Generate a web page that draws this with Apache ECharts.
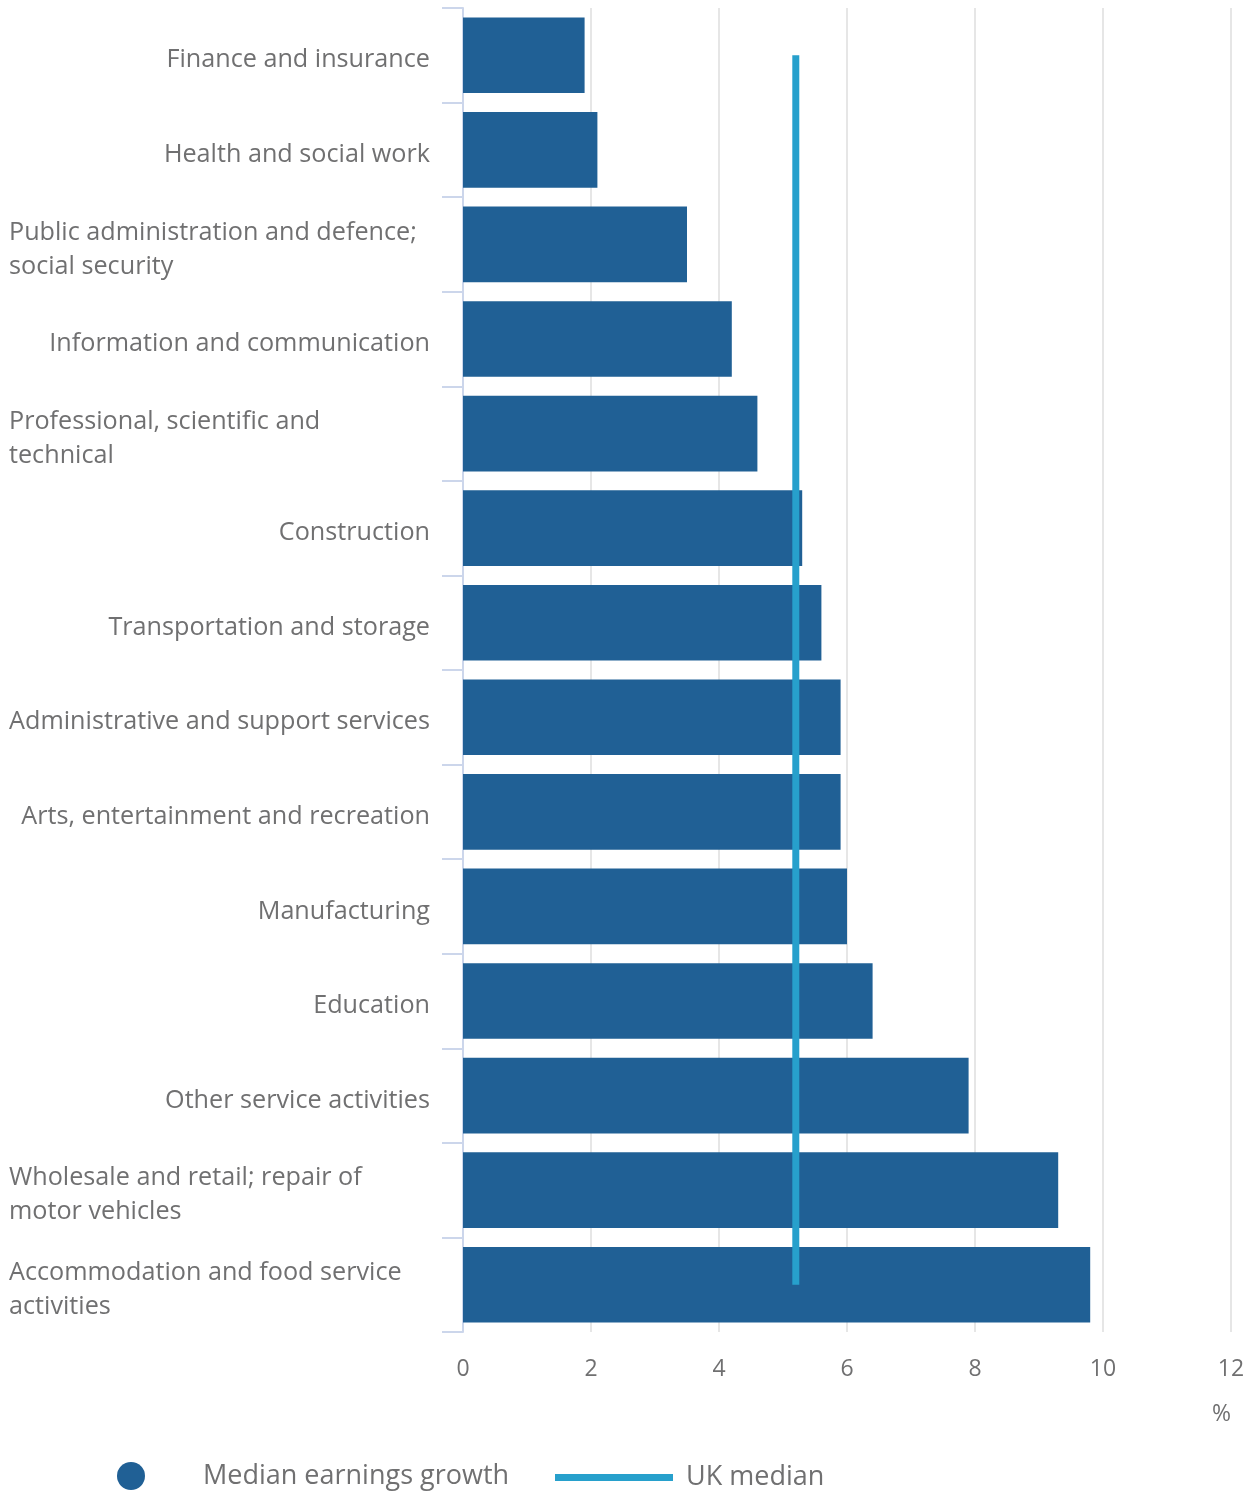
<!DOCTYPE html>
<html>
<head>
<meta charset="utf-8">
<script src="https://cdn.jsdelivr.net/npm/echarts@6/dist/echarts.min.js"></script>
<style>html,body{margin:0;padding:0;background:#fff;}#c{width:1255px;height:1493px;}</style>
</head>
<body>
<div id="c"></div>
<script>
var categories = [
  "Finance and insurance",
  "Health and social work",
  "Public administration and defence;\nsocial security",
  "Information and communication",
  "Professional, scientific and\ntechnical",
  "Construction",
  "Transportation and storage",
  "Administrative and support services",
  "Arts, entertainment and recreation",
  "Manufacturing",
  "Education",
  "Other service activities",
  "Wholesale and retail; repair of\nmotor vehicles",
  "Accommodation and food service\nactivities"
];
var medianGrowth = [1.9, 2.1, 3.5, 4.2, 4.6, 5.3, 5.6, 5.9, 5.9, 6.0, 6.4, 7.9, 9.3, 9.8];
var ukMedian = [5.2, 5.2, 5.2, 5.2, 5.2, 5.2, 5.2, 5.2, 5.2, 5.2, 5.2, 5.2, 5.2, 5.2];
var xTicks = [0, 2, 4, 6, 8, 10, 12];

var FONT = "'Open Sans', sans-serif";
var TXT = '#707071';
var LBL = 25.2;
var chart = echarts.init(document.getElementById('c'));
chart.setOption({
  animation: false,
  textStyle: { fontFamily: FONT },
  grid: { left: 463, right: 24, top: 8, bottom: 161, containLabel: false },
  xAxis: {
    type: 'value', min: xTicks[0], max: xTicks[xTicks.length - 1], interval: 2,
    axisLine: { show: false }, axisTick: { show: false },
    splitLine: { show: true, lineStyle: { color: '#e6e6e6', width: 2 } },
    axisLabel: { color: TXT, fontSize: 23, fontFamily: FONT, margin: 26 }
  },
  yAxis: {
    type: 'category', inverse: true, data: categories,
    axisLine: { show: true, lineStyle: { color: '#ccd6eb', width: 2 } },
    axisTick: { show: true, length: 21, alignWithLabel: false, lineStyle: { color: '#ccd6eb', width: 2 } },
    axisLabel: {
      color: TXT, fontSize: LBL, fontFamily: FONT, margin: 33, lineHeight: 34, padding: [10, 0, 0, 0],
      formatter: function (v) {
        if (v.indexOf('\n') < 0) return v;
        return v.split('\n').map(function (s) { return '{l|' + s + '}'; }).join('\n');
      },
      rich: { l: { width: 421, align: 'left', color: TXT, fontSize: LBL, fontFamily: FONT, lineHeight: 34 } }
    }
  },
  graphic: [{ type: 'text', right: 24, top: 1403, style: { text: '%', fill: TXT, font: "23px 'Open Sans'" } }],
  legend: [{
    data: ['Median earnings growth'], left: 117, top: 1462, padding: 0, itemWidth: 118, itemHeight: 28, icon: 'circle',
    textStyle: { color: TXT, fontSize: 27, fontFamily: FONT, padding: [0, 0, 0, 8] }
  }, {
    data: ['UK median'], left: 555, top: 1464, padding: 0, itemWidth: 118, itemHeight: 7, icon: 'rect',
    textStyle: { color: TXT, fontSize: 27, fontFamily: FONT, padding: [0, 0, 0, 8] }
  }],
  series: [{
    name: 'Median earnings growth', type: 'bar', data: medianGrowth,
    barCategoryGap: '20%', itemStyle: { color: '#206095' }, z: 2
  }, {
    name: 'UK median', type: 'line', data: ukMedian, symbol: 'none',
    lineStyle: { color: '#27a0cc', width: 7 }, itemStyle: { color: '#27a0cc' }, z: 5
  }]
});
</script>
</body>
</html>
